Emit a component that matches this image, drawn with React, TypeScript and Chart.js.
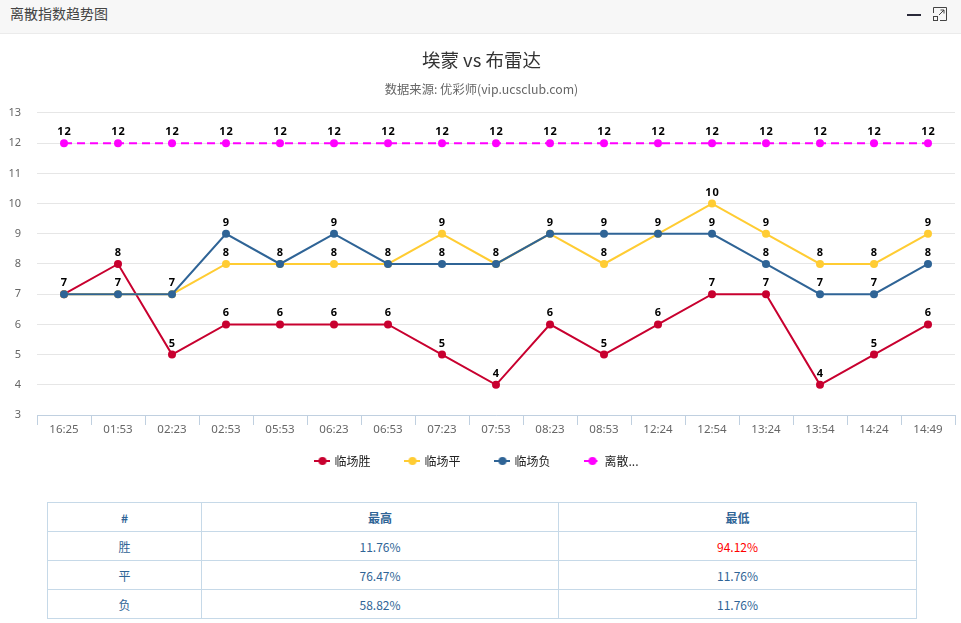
import React, { useEffect, useRef } from "react";
import { Chart, registerables } from "chart.js";

Chart.register(...registerables);

const categories = ["16:25","01:53","02:23","02:53","05:53","06:23","06:53","07:23","07:53","08:23","08:53","12:24","12:54","13:24","13:54","14:24","14:49"];
const homeWin = [7,8,5,6,6,6,6,5,4,6,5,6,7,7,4,5,6];
const homeDraw = [7,7,7,8,8,8,8,9,8,9,8,9,10,9,8,8,9];
const homeLoss = [7,7,7,9,8,9,8,8,8,9,9,9,9,8,7,7,8];
const dispersion = [12,12,12,12,12,12,12,12,12,12,12,12,12,12,12,12,12];
const seriesNames = ["临场胜","临场平","临场负","离散指数"];
const seriesColors = ["#c8002f","#ffcc33","#2f6496","#ff00ff"];
const tableHead = ["#","最高","最低"];
const tableRows = [["胜","11.76%","94.12%"],["平","76.47%","11.76%"],["负","58.82%","11.76%"]];

const FONT = '"Noto Sans","Noto Sans CJK SC",sans-serif';
const CJK = '"Noto Sans CJK SC","Noto Sans",sans-serif';

function legendMarker(color: string, dashed: boolean) {
  const c = document.createElement("canvas");
  c.width = 16; c.height = 10;
  const g = c.getContext("2d")!;
  g.strokeStyle = color; g.fillStyle = color; g.lineWidth = 2;
  if (dashed) g.setLineDash([5, 3]);
  g.beginPath(); g.moveTo(0, 5); g.lineTo(16, 5); g.stroke();
  g.beginPath(); g.arc(8, 5, 4, 0, Math.PI * 2); g.fill();
  return c;
}

const valueLabels = {
  id: "valueLabels",
  afterDatasetsDraw(chart: any) {
    const g = chart.ctx;
    g.save();
    g.font = `bold 11px ${FONT}`;
    (g as any).letterSpacing = "1px";
    g.fillStyle = "#000";
    g.textAlign = "center";
    g.textBaseline = "alphabetic";
    const seen = new Set<string>();
    chart.data.datasets.forEach((ds: any, i: number) => {
      chart.getDatasetMeta(i).data.forEach((pt: any, j: number) => {
        const key = `${j}:${ds.data[j]}`;
        if (seen.has(key)) return;
        seen.add(key);
        g.fillText(String(ds.data[j]), pt.x + 0.5, pt.y - 8);
      });
    });
    g.restore();
  },
};

const layoutTweaks = {
  id: "layoutTweaks",
  afterLayout(chart: any) {
    chart.boxes.forEach((b: any) => {
      if (b.options && b.options.text) { b.left += 4; b.right += 4; }
    });
    chart.scales.x.bottom += 30;
  },
};

export default function App() {
  const ref = useRef<HTMLCanvasElement>(null);
  useEffect(() => {
    document.body.style.margin = "0";
    const mk = (i: number, data: number[], dash?: number[]) => ({
      label: seriesNames[i],
      data,
      order: 3 - i,
      borderColor: seriesColors[i],
      backgroundColor: seriesColors[i],
      borderWidth: 2,
      borderDash: dash ?? [],
      pointRadius: 4,
      pointHoverRadius: 4,
      pointBorderWidth: 0,
      tension: 0,
    });
    const chart = new Chart(ref.current!, {
      type: "line",
      data: {
        labels: categories,
        datasets: [mk(0, homeWin), mk(1, homeDraw), mk(2, homeLoss), mk(3, dispersion, [8, 5])],
      },
      options: {
        animation: false,
        responsive: false,
        layout: { padding: { left: 0, right: 6, top: 0, bottom: 0 } },
        scales: {
          x: {
            offset: true,
            afterFit(s: any) { s.height = 4; },
            border: { color: "#c0d0e0", width: 1 },
            grid: { offset: true, drawOnChartArea: false, color: "#c0d0e0", tickLength: 10, drawTicks: true },
            ticks: { color: "#666", font: { size: 11.5, family: FONT }, maxRotation: 0, autoSkip: false, padding: -2 },
          },
          y: {
            min: 3,
            max: 13,
            afterFit(s: any) { s.width = 37; },
            border: { display: false },
            grid: { color: "#e6e6e6", drawTicks: false },
            ticks: { stepSize: 1, color: "#666", font: { size: 11, family: FONT }, padding: 16 },
          },
        },
        plugins: {
          title: {
            display: true,
            text: "埃蒙 vs 布雷达",
            color: "#333",
            font: { size: 18.5, weight: "normal", family: CJK },
            padding: { top: 15, bottom: 0 },
          },
          subtitle: {
            display: true,
            text: "数据来源: 优彩师(vip.ucsclub.com)",
            color: "#666",
            font: { size: 12.3, weight: "normal", family: CJK },
            padding: { top: 11, bottom: 16 },
          },
          legend: {
            position: "bottom",
            labels: {
              color: "#222",
              font: { size: 12, family: CJK, weight: "normal" },
              usePointStyle: true,
              padding: 36,
              generateLabels(c: any) {
                return c.data.datasets.map((d: any, i: number) => ({
                  text: i === 3 ? "离散..." : d.label,
                  fontColor: "#222",
                  fillStyle: d.borderColor,
                  strokeStyle: d.borderColor,
                  lineWidth: 0,
                  hidden: false,
                  datasetIndex: i,
                  pointStyle: legendMarker(d.borderColor, i === 3),
                }));
              },
            },
          },
          tooltip: { enabled: false },
        },
      } as any,
      plugins: [valueLabels, layoutTweaks],
    });
    return () => chart.destroy();
  }, []);

  const cell: React.CSSProperties = {
    border: "1px solid #c6d9e8",
    textAlign: "center",
    padding: 0,
    height: 28,
    fontSize: 12,
    color: "#2f6496",
    fontFamily: CJK,
  };
  return (
    <div style={{ width: 961, height: 623, position: "relative", background: "#fff", overflow: "hidden" }}>
      <div style={{ height: 33, background: "#f7f7f7", borderBottom: "1px solid #ebebeb", boxSizing: "content-box", position: "relative" }}>
        <span style={{ position: "absolute", left: 10, top: 3, fontSize: 14, color: "#444", fontFamily: CJK }}>离散指数趋势图</span>
        <span style={{ position: "absolute", left: 907, top: 14, width: 14, height: 2, background: "#2a2a3a" }} />
        <svg style={{ position: "absolute", left: 933, top: 7 }} width="14" height="14" viewBox="0 0 14 14" fill="none" stroke="#444" strokeWidth="1">
          <path d="M0.5 6V0.5H13.5V13.5H7" />
          <rect x="0.5" y="9.5" width="4" height="4" />
          <path d="M6 8L11 3M7.5 3H11V6.5" />
        </svg>
      </div>
      <canvas ref={ref} width={961} height={443} style={{ position: "absolute", left: 0, top: 34, display: "block" }} />
      <table style={{ position: "absolute", left: 47, top: 502, width: 869, borderCollapse: "collapse", tableLayout: "fixed" }}>
        <colgroup>
          <col style={{ width: 154 }} />
          <col style={{ width: 357 }} />
          <col style={{ width: 358 }} />
        </colgroup>
        <thead>
          <tr>{tableHead.map((h) => <th key={h} style={{ ...cell, fontWeight: "bold" }}>{h}</th>)}</tr>
        </thead>
        <tbody>
          {tableRows.map((r) => (
            <tr key={r[0]}>
              <td style={cell}>{r[0]}</td>
              <td style={cell}>{r[1]}</td>
              <td style={{ ...cell, color: r[2] === "94.12%" ? "#ff0000" : cell.color }}>{r[2]}</td>
            </tr>
          ))}
        </tbody>
      </table>
    </div>
  );
}
